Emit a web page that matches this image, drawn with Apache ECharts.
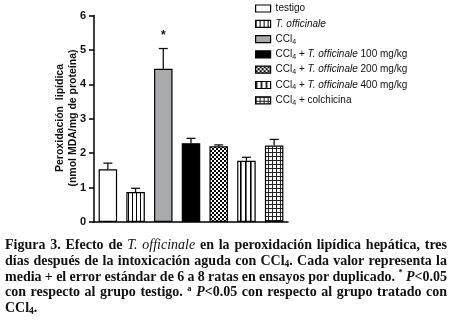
<!DOCTYPE html>
<html><head><meta charset="utf-8">
<script src="https://cdn.jsdelivr.net/npm/echarts@6/dist/echarts.min.js"></script>
<style>html,body{margin:0;padding:0;background:#fff}#c{width:450px;height:331px}</style>
</head><body><div id="c"></div>
<script>
// ---- data ----
const categories = ['testigo', 'T. officinale', 'CCl4', 'CCl4 + T. officinale 100 mg/kg',
  'CCl4 + T. officinale 200 mg/kg', 'CCl4 + T. officinale 400 mg/kg', 'CCl4 + colchicina'];
const legendLabels = ['testigo', '{i|T. officinale}', 'CCl{s|4}', 'CCl{s|4} + {i|T. officinale} 100 mg/kg',
  'CCl{s|4} + {i|T. officinale} 200 mg/kg', 'CCl{s|4} + {i|T. officinale} 400 mg/kg', 'CCl{s|4} + colchicina'];
const means = [1.53, 0.87, 4.45, 2.29, 2.20, 1.78, 2.22];
const sems = [0.18, 0.11, 0.59, 0.14, 0.04, 0.10, 0.18];
const significance = ['', '', '*', '', '', '', ''];
const yTicks = [0, 1, 2, 3, 4, 5, 6];
const yAxisTitle = 'Peroxidación  lipídica\n(nmol MDA/mg de proteína)';
const captionLines = [
  'Figura 3. Efecto de {i|T.} {i|officinale} en la peroxidación lipídica hepática, tres',
  'días después de la intoxicación aguda con CCl{s|4}. Cada valor representa la',
  'media + el error estándar de 6 a 8 ratas en ensayos por duplicado. {p|*} {j|P}<0.05',
  'con respecto al grupo testigo. {p|a} {j|P}<0.05 con respecto al grupo tratado con',
  'CCl{s|4}.'
];

// ---- patterns ----
function pat(w, h, draw) {
  const c = document.createElement('canvas'); c.width = w; c.height = h;
  const g = c.getContext('2d'); g.fillStyle = '#fff'; g.fillRect(0, 0, w, h);
  g.fillStyle = '#000'; draw(g); return { image: c, repeat: 'repeat' };
}
const fills = [
  '#ffffff',
  pat(4, 4, g => g.fillRect(0, 0, 1, 4)),
  '#a8aaac',
  '#000000',
  pat(4, 4, g => { g.fillRect(0, 0, 2, 2); g.fillRect(2, 2, 2, 2); }),
  pat(5, 5, g => g.fillRect(0, 0, 1.6, 5)),
  pat(4, 4, g => { g.fillStyle = '#222'; g.fillRect(0, 0, 1, 4); g.fillRect(0, 0, 4, 1); })
];

// ---- caption layout (justified) ----
const mctx = document.createElement('canvas').getContext('2d');
const capSize = 14, capFam = '"Liberation Serif", "Times New Roman", serif';
function segStyle(k) {
  switch (k) {
    case 'i': return { fontStyle: 'italic', fontWeight: 'normal', fontSize: capSize, dy: 0 };
    case 'j': return { fontStyle: 'italic', fontWeight: 'bold', fontSize: capSize, dy: 0 };
    case 's': return { fontStyle: 'normal', fontWeight: 'bold', fontSize: 9.5, dy: 3 };
    case 'p': return { fontStyle: 'normal', fontWeight: 'bold', fontSize: 8.5, dy: -4 };
    default: return { fontStyle: 'normal', fontWeight: 'bold', fontSize: capSize, dy: 0 };
  }
}
function measure(t, st) {
  mctx.font = `${st.fontStyle} ${st.fontWeight} ${st.fontSize}px ${capFam}`;
  return mctx.measureText(t).width;
}
function parseWord(w) {
  const re = /\{(\w)\|([^}]*)\}|([^{]+)/g; const segs = []; let m;
  while ((m = re.exec(w))) {
    if (m[1]) segs.push({ k: m[1], t: m[2] }); else segs.push({ k: '', t: m[3] });
  }
  segs.forEach(s => { s.st = segStyle(s.k); s.w = measure(s.t, s.st); });
  return segs;
}
const capX0 = 5, capX1 = 447, capY = [245.5, 261.3, 277, 292.7, 308.4];
const captionEls = [];
captionLines.forEach((line, li) => {
  const words = line.split(' ').filter(Boolean).map(parseWord);
  const ww = words.map(ws => ws.reduce((a, s) => a + s.w, 0));
  const total = ww.reduce((a, b) => a + b, 0);
  const last = li === captionLines.length - 1;
  const gap = last ? measure(' ', segStyle('')) : (capX1 - capX0 - total) / (words.length - 1);
  let x = capX0;
  words.forEach((ws, wi) => {
    let sx = x;
    ws.forEach(s => {
      captionEls.push({
        type: 'text', x: sx, y: capY[li] + s.st.dy, silent: true,
        style: { text: s.t, fontFamily: capFam, fontSize: s.st.fontSize, fontWeight: s.st.fontWeight,
          fontStyle: s.st.fontStyle, fill: '#111', align: 'left', verticalAlign: 'middle' }
      });
      sx += s.w;
    });
    x += ww[wi] + gap;
  });
});

// ---- chart ----
const chart = echarts.init(document.getElementById('c'), null, { renderer: 'canvas' });
const barSeries = categories.map((name, i) => ({
  type: 'bar', name, barWidth: 18.5, barGap: '-100%',
  data: means.map((v, j) => (j === i ? v : '-')),
  itemStyle: { color: fills[i], borderColor: '#000', borderWidth: 1.2 },
  emphasis: { disabled: true }
}));
const errSeries = {
  type: 'custom', name: 'err', z: 5, silent: true,
  data: means.map((v, i) => [i, v, sems[i]]),
  encode: { x: 0, y: 1 },
  renderItem(params, api) {
    const i = api.value(0), v = api.value(1), e = api.value(2);
    const base = api.coord([i, v]), top = api.coord([i, v + e]);
    const x = base[0], cw = 4.5;
    const ch = [
      { type: 'line', shape: { x1: x, y1: base[1], x2: x, y2: top[1] }, style: { stroke: '#111', lineWidth: 1.3 } },
      { type: 'line', shape: { x1: x - cw, y1: top[1], x2: x + cw, y2: top[1] }, style: { stroke: '#111', lineWidth: 1.3 } }
    ];
    const s = significance[params.dataIndex];
    if (s) ch.push({ type: 'text', x: x, y: top[1] - 13,
      style: { text: s, fontFamily: 'Liberation Sans', fontWeight: 'bold', fontSize: 12, fill: '#111', align: 'center', verticalAlign: 'middle' } });
    return { type: 'group', children: ch };
  }
};

chart.setOption({
  animation: false,
  backgroundColor: '#fff',
  grid: { left: 94, right: 162, top: 15.5, bottom: 109, containLabel: false },
  xAxis: {
    type: 'category', data: categories,
    axisLine: { lineStyle: { color: '#000', width: 1.5 } },
    axisTick: { show: false }, axisLabel: { show: false }
  },
  yAxis: {
    type: 'value', min: yTicks[0], max: yTicks[yTicks.length - 1], interval: yTicks[1] - yTicks[0],
    axisLine: { show: true, lineStyle: { color: '#000', width: 1.5 } },
    axisTick: { show: true, length: 5, lineStyle: { color: '#000', width: 1.5 } },
    axisLabel: { fontFamily: 'Liberation Sans', fontWeight: 'bold', fontSize: 11, color: '#111', margin: 8 },
    splitLine: { show: false }
  },
  legend: {
    data: categories, orient: 'vertical', left: 255, top: 2.5, padding: 0,
    itemWidth: 15, itemHeight: 7, itemGap: 3.3, icon: 'rect', selectedMode: false,
    itemStyle: { borderColor: '#000', borderWidth: 1.2 },
    formatter: name => legendLabels[categories.indexOf(name)],
    textStyle: {
      fontFamily: 'Liberation Sans', fontSize: 10, color: '#111', lineHeight: 12,
      rich: {
        i: { fontFamily: 'Liberation Sans', fontStyle: 'italic', fontSize: 10, lineHeight: 12, color: '#111' },
        s: { fontFamily: 'Liberation Sans', fontSize: 7, lineHeight: 7, verticalAlign: 'bottom', color: '#111' }
      }
    }
  },
  graphic: [
    { type: 'text', x: 67, y: 118, rotation: Math.PI / 2, silent: true,
      style: { text: yAxisTitle, fontFamily: 'Liberation Sans', fontWeight: 'bold', fontSize: 10.5, lineHeight: 13,
        fill: '#111', align: 'center', verticalAlign: 'middle' } }
  ].concat(captionEls),
  series: barSeries.concat([errSeries])
});
</script></body></html>
